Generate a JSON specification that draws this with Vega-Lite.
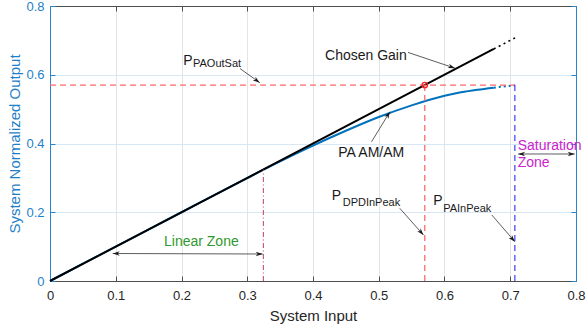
{
  "$schema": "https://vega.github.io/schema/vega-lite/v6.json",
  "width": 526,
  "height": 275,
  "autosize": "none",
  "padding": {"left": 50, "top": 6, "right": 11, "bottom": 47},
  "config": {"font": "Liberation Sans", "view": {"stroke": null}},
  "datasets": {
    "paSolid": [
      {"x": 0, "y": 0}, {"x": 0.1, "y": 0.1}, {"x": 0.2, "y": 0.2}, {"x": 0.3, "y": 0.2995},
      {"x": 0.35, "y": 0.348}, {"x": 0.4, "y": 0.394}, {"x": 0.45, "y": 0.437},
      {"x": 0.5, "y": 0.477}, {"x": 0.55, "y": 0.511}, {"x": 0.6, "y": 0.539},
      {"x": 0.625, "y": 0.549}, {"x": 0.65, "y": 0.5565}, {"x": 0.675, "y": 0.5625}
    ],
    "paDot": [
      {"x": 0.675, "y": 0.5625}, {"x": 0.69, "y": 0.5658}, {"x": 0.707, "y": 0.5693}
    ],
    "gainSolid": [{"x": 0, "y": 0}, {"x": 0.675, "y": 0.675}],
    "gainDot": [{"x": 0.675, "y": 0.675}, {"x": 0.71, "y": 0.71}],
    "redLines": [
      {"x": 0, "y": 0.57, "x2": 0.707, "y2": 0.57},
      {"x": 0.57, "y": 0, "x2": 0.57, "y2": 0.57}
    ],
    "blueLine": [{"x": 0.707, "y": 0, "x2": 0.707, "y2": 0.57}],
    "dashDot": [{"x": 0.3245, "y": 0, "x2": 0.3245, "y2": 0.3245}],
    "opPoint": [{"x": 0.57, "y": 0.57}],
    "arrows": [
      {"x": 0.289, "y": 0.618, "x2": 0.319, "y2": 0.577},
      {"x": 0.5445, "y": 0.665, "x2": 0.616, "y2": 0.619},
      {"x": 0.489, "y": 0.405, "x2": 0.517, "y2": 0.4925},
      {"x": 0.532, "y": 0.2115, "x2": 0.568, "y2": 0.1338},
      {"x": 0.672, "y": 0.192, "x2": 0.707, "y2": 0.1144},
      {"x": 0.712, "y": 0.3695, "x2": 0.798, "y2": 0.3695},
      {"x": 0.0954, "y": 0.08, "x2": 0.3235, "y2": 0.0785}
    ],
    "heads": [
      {"x": 0.319, "y": 0.577, "angle": 36},
      {"x": 0.616, "y": 0.619, "angle": 19},
      {"x": 0.517, "y": 0.4925, "angle": 301},
      {"x": 0.568, "y": 0.1338, "angle": 49},
      {"x": 0.707, "y": 0.1144, "angle": 49},
      {"x": 0.712, "y": 0.3695, "angle": 180},
      {"x": 0.798, "y": 0.3695, "angle": 0},
      {"x": 0.0954, "y": 0.08, "angle": 180},
      {"x": 0.3235, "y": 0.0785, "angle": 0}
    ],
    "mainText": [
      {"text": "Chosen Gain", "x": 0.4183, "y": 0.6429},
      {"text": "P", "x": 0.2027, "y": 0.6293},
      {"text": "PA AM/AM", "x": 0.4385, "y": 0.36},
      {"text": "P", "x": 0.4284, "y": 0.2356},
      {"text": "P", "x": 0.583, "y": 0.2211}
    ],
    "subText": [
      {"text": "PAOutSat", "x": 0.2175, "y": 0.6217},
      {"text": "DPDInPeak", "x": 0.4452, "y": 0.219},
      {"text": "PAInPeak", "x": 0.598, "y": 0.2016}
    ],
    "linText": [{"text": "Linear Zone", "x": 0.1734, "y": 0.1027}],
    "satText": [
      {"text": "Saturation", "x": 0.7113, "y": 0.381},
      {"text": "Zone", "x": 0.7113, "y": 0.3307}
    ]
  },
  "layer": [
    {
      "data": {"name": "paSolid"},
      "mark": {"type": "line", "color": "#0072BD", "strokeWidth": 2, "interpolate": "monotone"},
      "encoding": {
        "x": {"field": "x", "type": "quantitative", "scale": {"domain": [0, 0.8], "nice": false},
          "axis": {"orient": "bottom", "values": [0, 0.1, 0.2, 0.3, 0.4, 0.5, 0.6, 0.7, 0.8], "format": ".1~f", "labelFlush": false,
            "grid": true, "gridColor": "#e4e4e4", "gridWidth": 1,
            "domainColor": "#4d4d4d", "domainWidth": 1, "tickColor": "#4d4d4d", "tickSize": -5, "tickWidth": 1,
            "labelFontSize": 13, "labelColor": "#262626", "labelPadding": 13,
            "title": "System Input", "titleFontSize": 15, "titleFontWeight": "normal", "titleColor": "#262626", "titlePadding": 6}},
        "y": {"field": "y", "type": "quantitative", "scale": {"domain": [0, 0.8], "nice": false},
          "axis": {"orient": "left", "values": [0, 0.2, 0.4, 0.6, 0.8], "format": ".1~f", "labelFlush": false,
            "grid": true, "gridColor": "#d8e7f5", "gridWidth": 1,
            "domainColor": "#2a86cc", "domainWidth": 1, "tickColor": "#2a86cc", "tickSize": -5, "tickWidth": 1,
            "labelFontSize": 13, "labelColor": "#1f7fc8", "labelPadding": 11,
            "title": "System Normalized Output", "titleFontSize": 15, "titleFontWeight": "normal", "titleColor": "#1f7fc8", "titlePadding": 3}}
      }
    },
    {
      "data": {"name": "paDot"},
      "mark": {"type": "line", "color": "#0072BD", "strokeWidth": 2, "strokeDash": [2, 3]},
      "encoding": {
        "x": {"field": "x", "type": "quantitative", "axis": {"orient": "top", "values": [0, 0.1, 0.2, 0.3, 0.4, 0.5, 0.6, 0.7, 0.8],
          "labels": false, "grid": false, "title": null, "domainColor": "#4d4d4d", "domainWidth": 1, "tickColor": "#4d4d4d", "tickSize": -5}},
        "y": {"field": "y", "type": "quantitative", "axis": {"orient": "right", "values": [0, 0.2, 0.4, 0.6, 0.8],
          "labels": false, "grid": false, "title": null, "domainColor": "#2a86cc", "domainWidth": 1, "tickColor": "#2a86cc", "tickSize": -5}}
      }
    },
    {
      "data": {"name": "gainSolid"},
      "mark": {"type": "line", "color": "#000000", "strokeWidth": 2},
      "encoding": {
        "x": {"field": "x", "type": "quantitative", "axis": null},
        "y": {"field": "y", "type": "quantitative", "axis": null}
      }
    },
    {
      "data": {"name": "gainDot"},
      "mark": {"type": "line", "color": "#000000", "strokeWidth": 1.6, "strokeDash": [2, 3.5]},
      "encoding": {
        "x": {"field": "x", "type": "quantitative", "axis": null},
        "y": {"field": "y", "type": "quantitative", "axis": null}
      }
    },
    {
      "data": {"name": "redLines"},
      "mark": {"type": "rule", "color": "#ff6a6a", "strokeWidth": 1.3, "strokeDash": [6, 4]},
      "encoding": {
        "x": {"field": "x", "type": "quantitative", "axis": null},
        "y": {"field": "y", "type": "quantitative", "axis": null},
        "x2": {"field": "x2"},
        "y2": {"field": "y2"}
      }
    },
    {
      "data": {"name": "blueLine"},
      "mark": {"type": "rule", "color": "#4d4df0", "strokeWidth": 1.3, "strokeDash": [6, 4]},
      "encoding": {
        "x": {"field": "x", "type": "quantitative", "axis": null},
        "y": {"field": "y", "type": "quantitative", "axis": null},
        "x2": {"field": "x2"},
        "y2": {"field": "y2"}
      }
    },
    {
      "data": {"name": "dashDot"},
      "mark": {"type": "rule", "color": "#b5445a", "strokeWidth": 1, "strokeDash": [5, 2.5, 1, 2.5]},
      "encoding": {
        "x": {"field": "x", "type": "quantitative", "axis": null},
        "y": {"field": "y", "type": "quantitative", "axis": null},
        "x2": {"field": "x2"},
        "y2": {"field": "y2"}
      }
    },
    {
      "data": {"name": "opPoint"},
      "mark": {"type": "point", "shape": "circle", "filled": false, "color": "#ff2020", "size": 30, "strokeWidth": 1.3, "opacity": 1},
      "encoding": {
        "x": {"field": "x", "type": "quantitative", "axis": null},
        "y": {"field": "y", "type": "quantitative", "axis": null}
      }
    },
    {
      "data": {"name": "arrows"},
      "mark": {"type": "rule", "color": "#333333", "strokeWidth": 0.8},
      "encoding": {
        "x": {"field": "x", "type": "quantitative", "axis": null},
        "y": {"field": "y", "type": "quantitative", "axis": null},
        "x2": {"field": "x2"},
        "y2": {"field": "y2"}
      }
    },
    {
      "data": {"name": "heads"},
      "mark": {"type": "point", "shape": "M0,0L-2,-0.65L-1.4,0L-2,0.65Z", "filled": true, "color": "#1a1a1a", "size": 49, "opacity": 1, "strokeWidth": 0},
      "encoding": {
        "x": {"field": "x", "type": "quantitative", "axis": null},
        "y": {"field": "y", "type": "quantitative", "axis": null},
        "angle": {"field": "angle", "type": "quantitative", "scale": null}
      }
    },
    {
      "data": {"name": "mainText"},
      "mark": {"type": "text", "align": "left", "baseline": "alphabetic", "fontSize": 14, "color": "#1a1a1a"},
      "encoding": {
        "x": {"field": "x", "type": "quantitative", "axis": null},
        "y": {"field": "y", "type": "quantitative", "axis": null},
        "text": {"field": "text"}
      }
    },
    {
      "data": {"name": "subText"},
      "mark": {"type": "text", "align": "left", "baseline": "alphabetic", "fontSize": 11, "color": "#1a1a1a"},
      "encoding": {
        "x": {"field": "x", "type": "quantitative", "axis": null},
        "y": {"field": "y", "type": "quantitative", "axis": null},
        "text": {"field": "text"}
      }
    },
    {
      "data": {"name": "linText"},
      "mark": {"type": "text", "align": "left", "baseline": "alphabetic", "fontSize": 14, "color": "#2e9a2e"},
      "encoding": {
        "x": {"field": "x", "type": "quantitative", "axis": null},
        "y": {"field": "y", "type": "quantitative", "axis": null},
        "text": {"field": "text"}
      }
    },
    {
      "data": {"name": "satText"},
      "mark": {"type": "text", "align": "left", "baseline": "alphabetic", "fontSize": 14, "color": "#cc22cc"},
      "encoding": {
        "x": {"field": "x", "type": "quantitative", "axis": null},
        "y": {"field": "y", "type": "quantitative", "axis": null},
        "text": {"field": "text"}
      }
    }
  ],
  "resolve": {"axis": {"x": "independent", "y": "independent"}}
}
